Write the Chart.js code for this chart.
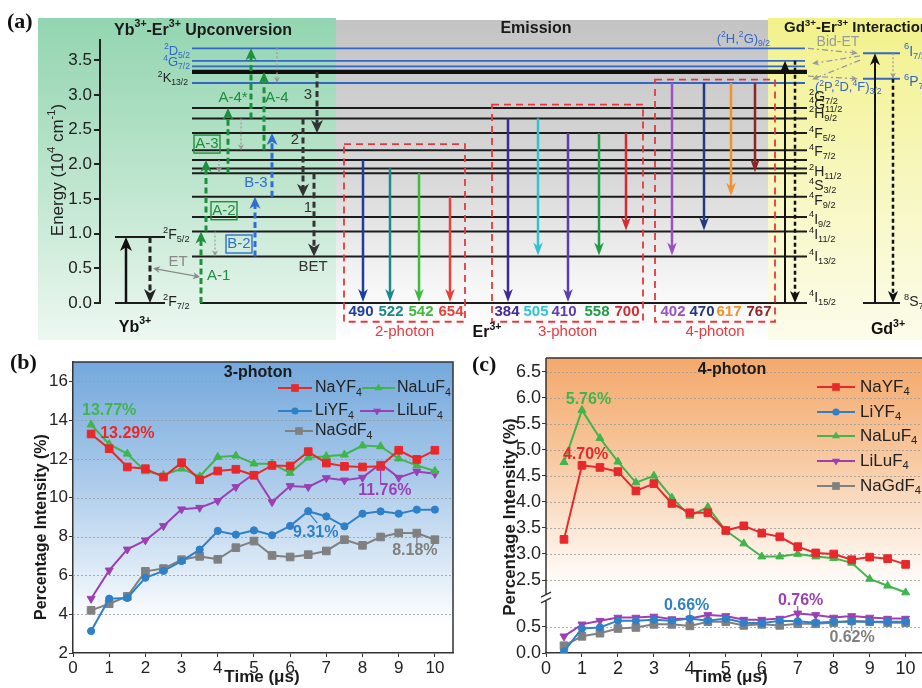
<!DOCTYPE html>
<html lang="en">
<head>
<meta charset="UTF-8" />
<title>Er3+ upconversion, 3-photon and 4-photon emission</title>
<script src="https://cdn.jsdelivr.net/npm/chart.js"></script>
<style>
  html, body { margin: 0; padding: 0; background: #fff; width: 922px; height: 688px; overflow: hidden; }
  .panel { position: absolute; }
  .panel canvas { display: block; }
  #wrapA { left: 0; top: 0; }
  #wrapB { left: 0; top: 340px; }
  #wrapC { left: 460px; top: 340px; }
</style>
</head>
<body>
<div class="panel" id="wrapA"><canvas id="chartA" width="922" height="340"></canvas></div>
<div class="panel" id="wrapB"><canvas id="chartB" width="460" height="348"></canvas></div>
<div class="panel" id="wrapC"><canvas id="chartC" width="470" height="348"></canvas></div>

<script>
// ---------- panel (a): energy levels (10^4 cm^-1) ----------
const erLevels = [0, 0.67, 1.03, 1.24, 1.53, 1.87, 1.94, 2.06, 2.20, 2.45, 2.66, 2.81];
const erLevelNames = ['^{4}I_{15/2}', '^{4}I_{13/2}', '^{4}I_{11/2}', '^{4}I_{9/2}', '^{4}F_{9/2}', '^{4}S_{3/2}',
                      '^{2}H_{11/2}', '^{4}F_{7/2}', '^{4}F_{5/2}', '^{2}H_{9/2}', '^{4}G_{11/2}', '^{2}G_{7/2}'];
const erHighLevels = [3.17, 3.41, 3.49, 3.67];
const er2K13 = 3.33;
const ybLevels = [0, 0.95];
const gdLevels = [0, 3.23, 3.60];

// emission transitions (nm, from, to)
const emissionNm   = [490, 522, 542, 654, 384, 505, 410, 558, 700, 402, 470, 617, 767];
const emissionFrom = [2.06, 1.94, 1.87, 1.53, 2.66, 2.66, 2.45, 2.45, 2.45, 3.17, 3.17, 3.17, 3.17];
const emissionTo   = [0, 0, 0, 0, 0, 0.67, 0, 0.67, 1.03, 0.67, 1.03, 1.53, 1.87];
const photonGroups = ['2-photon', '3-photon', '4-photon'];
const photonGroupTop = [2.29, 2.86, 3.22];

// upconversion steps A-1 ... B-3
const upFrom = [0, 1.03, 1.87, 2.66, 2.20, 0.67, 1.53];
const upTo   = [1.03, 2.06, 2.81, 3.67, 3.33, 1.53, 2.45];
// non-radiative relaxation
const relaxFrom = [1.03, 2.06, 2.66, 3.67];
const relaxTo   = [0.67, 1.87, 2.20, 3.17];
// back energy transfer 1, 2, 3
const betFrom = [1.87, 2.66, 3.33];
const betTo   = [0.67, 1.53, 2.45];

// ---------- panels (b), (c): percentage intensity vs time ----------
const timeUs = [0.5, 1, 1.5, 2, 2.5, 3, 3.5, 4, 4.5, 5, 5.5, 6, 6.5, 7, 7.5, 8, 8.5, 9, 9.5, 10];
const hostNames = ['NaYF_{4}', 'LiYF_{4}', 'NaLuF_{4}', 'LiLuF_{4}', 'NaGdF_{4}'];

const p3NaYF4  = [13.29, 12.53, 11.59, 11.50, 11.07, 11.81, 10.93, 11.38, 11.47, 11.16, 11.67, 11.64, 12.38, 11.79, 11.62, 11.59, 11.62, 12.45, 11.98, 12.45];
const p3LiYF4  = [3.13, 4.80, 4.84, 5.88, 6.23, 6.74, 7.33, 8.29, 8.10, 8.32, 8.07, 8.55, 9.31, 9.04, 8.53, 9.18, 9.30, 9.18, 9.39, 9.39];
const p3NaLuF4 = [13.77, 12.76, 12.27, 11.36, 11.18, 11.50, 11.10, 12.10, 12.17, 11.76, 11.76, 11.28, 12.07, 12.14, 12.22, 12.69, 12.65, 12.02, 11.67, 11.38];
const p3LiLuF4 = [4.80, 6.26, 7.34, 7.81, 8.55, 9.41, 9.49, 9.84, 10.56, 11.24, 9.78, 10.61, 10.56, 11.02, 10.90, 11.04, 11.76, 11.04, 11.36, 11.24];
const p3NaGdF4 = [4.20, 4.54, 4.92, 6.21, 6.35, 6.81, 6.98, 6.83, 7.43, 7.77, 7.03, 6.95, 7.07, 7.26, 7.84, 7.55, 7.98, 8.19, 8.18, 7.84];

const p4NaYF4  = [3.28, 4.70, 4.66, 4.58, 4.21, 4.35, 3.97, 3.79, 3.79, 3.45, 3.54, 3.40, 3.33, 3.14, 3.02, 3.00, 2.89, 2.94, 2.91, 2.80];
const p4LiYF4  = [0.03, 0.47, 0.49, 0.62, 0.62, 0.64, 0.62, 0.66, 0.62, 0.66, 0.58, 0.57, 0.62, 0.61, 0.58, 0.60, 0.60, 0.60, 0.60, 0.60];
const p4NaLuF4 = [4.76, 5.76, 5.22, 4.77, 4.37, 4.50, 4.08, 3.73, 3.90, 3.45, 3.20, 2.95, 2.95, 3.00, 2.95, 2.92, 2.83, 2.52, 2.39, 2.26];
const p4LiLuF4 = [0.32, 0.55, 0.62, 0.68, 0.68, 0.70, 0.65, 0.66, 0.73, 0.71, 0.64, 0.64, 0.66, 0.76, 0.73, 0.68, 0.71, 0.68, 0.66, 0.66];
const p4NaGdF4 = [0.14, 0.32, 0.38, 0.47, 0.49, 0.55, 0.55, 0.52, 0.60, 0.60, 0.53, 0.55, 0.53, 0.56, 0.56, 0.58, 0.62, 0.60, 0.58, 0.58];

const p3Ticks = [2, 4, 6, 8, 10, 12, 14, 16];
const p4Ticks = [0, 0.5, 2.5, 3.0, 3.5, 4.0, 4.5, 5.0, 5.5, 6.0, 6.5];
const p4Gap = 1.1;   // part of the 4-photon y axis that is cut out

// ---------- styles ----------
const SANS = '"Liberation Sans", Arial, Helvetica, sans-serif';
const SERIF = '"Liberation Serif", "Times New Roman", serif';
Chart.defaults.font.family = SANS;
Chart.defaults.color = '#222';

const hostColors = ['#e8282b', '#2f80c8', '#3fb54c', '#9b3fb5', '#808080'];
const hostMarkers = ['rect', 'circle', 'triangle', 'triangleDown', 'rect'];
const hostRadius = [5.4, 3.6, 4.6, 4.6, 5.4];
const GREEN = '#1e8f3c', BLUE = '#2f6fd0', LBLUE = '#3466c6', RED = '#e8383d';

// diagram layout, x in page pixels
const LAY = {
  erX0: 192, erX1: 807, ybX: [115, 165], gdX: [863, 900],
  emissionX: [363, 390, 419, 450, 508, 538, 568, 599, 626, 672, 704, 731, 755],
  emissionLabelX: [361, 391, 421, 451, 507, 536, 564, 597, 627, 673, 702, 729, 759],
  emissionColor: ['#1f3d9e', '#1a8b8b', '#3dbb3d', '#e8403a', '#3f2a92', '#2fc4d0', '#5a3eb0',
                  '#1f9c48', '#d42a30', '#9a52c2', '#253a7e', '#f0922e', '#8e2424'],
  groupBox: [[344, 465], [492, 643], [655, 775]],
  upX: [201, 206, 228, 251, 264, 255, 272],
  upColor: [GREEN, GREEN, GREEN, GREEN, GREEN, BLUE, BLUE],
  relaxX: [215, 219, 241, 277],
  betX: [314, 303, 317],
  erLabelDy: [-5, 1, 4, 3, 4, 13, 4, -8, -16, -19, -13, -11]
};

// ---------- helpers ----------
function rich(ctx, str, x, y, o) {
  const parts = [];
  const re = /([_^])\{([^}]*)\}|([^_^]+)/g;
  let m;
  while ((m = re.exec(str))) {
    if (m[3]) parts.push({ t: m[3], k: 0 });
    else parts.push({ t: m[2], k: m[1] === '_' ? 1 : 2 });
  }
  const size = o.size || 14, w = o.weight || 'normal', fam = o.family || SANS;
  const fontFor = k => `${w} ${k ? size * 0.66 : size}px ${fam}`;
  let total = 0;
  parts.forEach(p => { ctx.font = fontFor(p.k); p.w = ctx.measureText(p.t).width; total += p.w; });
  let cx = o.align === 'center' ? x - total / 2 : o.align === 'right' ? x - total : x;
  ctx.save();
  ctx.fillStyle = o.color || '#222';
  ctx.textBaseline = 'middle';
  ctx.textAlign = 'left';
  parts.forEach(p => {
    ctx.font = fontFor(p.k);
    const dy = p.k === 1 ? size * 0.3 : p.k === 2 ? -size * 0.36 : 0;
    ctx.fillText(p.t, cx, y + dy);
    cx += p.w;
  });
  ctx.restore();
}

function head(ctx, x2, y2, ang, hl, hw) {
  const bx = x2 - hl * Math.cos(ang), by = y2 - hl * Math.sin(ang);
  ctx.beginPath();
  ctx.moveTo(x2, y2);
  ctx.lineTo(bx + hw * Math.sin(ang), by - hw * Math.cos(ang));
  ctx.lineTo(x2 - hl * 0.72 * Math.cos(ang), y2 - hl * 0.72 * Math.sin(ang));
  ctx.lineTo(bx - hw * Math.sin(ang), by + hw * Math.cos(ang));
  ctx.closePath();
  ctx.fill();
}

function arrow(ctx, x1, y1, x2, y2, o) {
  const ang = Math.atan2(y2 - y1, x2 - x1);
  const hl = o.head || 12, hw = o.headW || 5;
  ctx.save();
  ctx.strokeStyle = ctx.fillStyle = o.color;
  ctx.lineWidth = o.width || 2;
  ctx.setLineDash(o.dash || []);
  ctx.beginPath();
  const sx = o.both ? x1 + hl * 0.6 * Math.cos(ang) : x1, sy = o.both ? y1 + hl * 0.6 * Math.sin(ang) : y1;
  ctx.moveTo(sx, sy);
  ctx.lineTo(x2 - hl * 0.6 * Math.cos(ang), y2 - hl * 0.6 * Math.sin(ang));
  ctx.stroke();
  ctx.setLineDash([]);
  head(ctx, x2, y2, ang, hl, hw);
  if (o.both) head(ctx, x1, y1, ang + Math.PI, hl, hw);
  ctx.restore();
}

function marker(ctx, style, x, y, r, color) {
  ctx.save();
  ctx.fillStyle = color;
  ctx.beginPath();
  if (style === 'rect') ctx.rect(x - r * 0.71, y - r * 0.71, r * 1.42, r * 1.42);
  else if (style === 'circle') ctx.arc(x, y, r, 0, Math.PI * 2);
  else {
    const s = style === 'triangle' ? 1 : -1;
    ctx.moveTo(x, y - s * r);
    ctx.lineTo(x + r * 0.87, y + s * r * 0.5);
    ctx.lineTo(x - r * 0.87, y + s * r * 0.5);
    ctx.closePath();
  }
  ctx.fill();
  ctx.restore();
}

function boxedLabel(ctx, text, x, y, color) {
  ctx.save();
  ctx.strokeStyle = color;
  ctx.lineWidth = 1.4;
  ctx.strokeRect(x - 13, y - 9, 26, 18);
  ctx.restore();
  rich(ctx, text, x, y, { size: 15, color, align: 'center' });
}

function zone(ctx, x0, y0, x1, y1, stops) {
  const g = ctx.createLinearGradient(0, y0, 0, y1);
  stops.forEach(([p, c]) => g.addColorStop(p, c));
  ctx.fillStyle = g;
  ctx.fillRect(x0, y0, x1 - x0, y1 - y0);
}

// ---------- panel (a) ----------
function levelSet(E, x0, x1, color, width) {
  return { data: [{ x: x0, y: E }, { x: x1, y: E }], showLine: true, borderColor: color,
           borderWidth: width, pointRadius: 0, clip: false };
}
const datasetsA = [];
erLevels.forEach((E, i) => datasetsA.push(levelSet(E, i === 0 ? 200 : LAY.erX0, LAY.erX1, '#1c1c1c', 2)));
erHighLevels.forEach(E => datasetsA.push(levelSet(E, LAY.erX0, LAY.erX1 - 2, LBLUE, 1.8)));
datasetsA.push(levelSet(er2K13, LAY.erX0, LAY.erX1, '#111', 4.2));
ybLevels.forEach(E => datasetsA.push(levelSet(E, LAY.ybX[0], LAY.ybX[1], '#1c1c1c', 2)));
gdLevels.forEach((E, i) => datasetsA.push(levelSet(E, LAY.gdX[0], LAY.gdX[1], i === 0 ? '#1c1c1c' : LBLUE, 2)));

const diagramPlugin = {
  id: 'diagram',
  beforeDraw(chart) {
    const ctx = chart.ctx;
    zone(ctx, 38, 18, 336, 343, [[0, '#93d5b1'], [0.5, '#bde5cd'], [1, '#eef8f2']]);
    zone(ctx, 336, 20, 768, 343, [[0, '#c4c4c4'], [0.5, '#d9d9d9'], [0.82, '#f6f6f6'], [1, '#ffffff']]);
    zone(ctx, 768, 18, 922, 343, [[0, '#f2f18a'], [0.5, '#f7f7bf'], [1, '#fcfcec']]);
  },
  afterDatasetsDraw(chart) {
    const ctx = chart.ctx;
    const X = v => chart.scales.x.getPixelForValue(v);
    const Y = v => chart.scales.y.getPixelForValue(v);

    // photon-order boxes and emission arrows
    photonGroups.forEach((g, i) => {
      const [x0, x1] = LAY.groupBox[i];
      ctx.save();
      ctx.strokeStyle = RED; ctx.lineWidth = 1.8; ctx.setLineDash([7, 5]);
      ctx.strokeRect(X(x0), Y(photonGroupTop[i]), X(x1) - X(x0), Y(-0.27) - Y(photonGroupTop[i]));
      ctx.restore();
      rich(ctx, g, X((x0 + x1) / 2), Y(-0.41), { size: 15, color: RED, align: 'center' });
    });
    emissionNm.forEach((nm, i) => {
      const x = X(LAY.emissionX[i]);
      arrow(ctx, x, Y(emissionFrom[i]), x, Y(emissionTo[i]) - 1, { color: LAY.emissionColor[i], width: 2.5, head: 13, headW: 4.8 });
      rich(ctx, String(nm), X(LAY.emissionLabelX[i]), Y(-0.13), { size: 15, weight: 'bold', color: LAY.emissionColor[i], align: 'center' });
    });

    // Yb3+ absorption / ET
    arrow(ctx, X(126), Y(0), X(126), Y(ybLevels[1]), { color: '#111', width: 2.5, head: 14, headW: 6 });
    arrow(ctx, X(150), Y(ybLevels[1]), X(150), Y(0), { color: '#222', width: 3, dash: [6, 3.5], head: 14, headW: 6 });
    arrow(ctx, X(153), Y(0.5), X(200), Y(0.375), { color: '#8a8a8a', width: 1.3, head: 7, headW: 3.5, both: true });

    // upconversion, relaxation, back energy transfer
    upFrom.forEach((f, i) => arrow(ctx, X(LAY.upX[i]), Y(f), X(LAY.upX[i]), Y(upTo[i]),
      { color: LAY.upColor[i], width: 3, dash: [6, 3.5], head: 12, headW: 5.5 }));
    relaxFrom.forEach((f, i) => arrow(ctx, X(LAY.relaxX[i]), Y(f), X(LAY.relaxX[i]), Y(relaxTo[i]),
      { color: '#9a9a9a', width: 1.2, dash: [2, 2], head: 6, headW: 3 }));
    betFrom.forEach((f, i) => arrow(ctx, X(LAY.betX[i]), Y(f), X(LAY.betX[i]), Y(betTo[i]),
      { color: '#333', width: 3, dash: [6, 3.5], head: 13, headW: 6 }));

    // Er3+ <-> Gd3+
    arrow(ctx, X(785), Y(0), X(785), Y(erHighLevels[2]), { color: '#111', width: 2, head: 12, headW: 5 });
    arrow(ctx, X(795), Y(erHighLevels[2]), X(795), Y(0), { color: '#111', width: 2.5, dash: [4, 3], head: 12, headW: 5 });
    arrow(ctx, X(875), Y(0), X(875), Y(gdLevels[2]), { color: '#111', width: 2, head: 12, headW: 5 });
    arrow(ctx, X(893), Y(gdLevels[1]), X(893), Y(0), { color: '#111', width: 2.5, dash: [4, 3], head: 12, headW: 5 });
    arrow(ctx, X(893), Y(gdLevels[2]), X(893), Y(gdLevels[1]), { color: '#9a9a9a', width: 1.2, dash: [2, 2], head: 6, headW: 3 });
    const bid = { color: '#9a9a9a', width: 1.3, dash: [6, 3, 2, 3], head: 7, headW: 3 };
    arrow(ctx, X(808), Y(erHighLevels[3]), X(858), Y(gdLevels[2]), bid);
    arrow(ctx, X(860), Y(gdLevels[2] - 0.04), X(812), Y(erHighLevels[2] - 0.04), bid);
    arrow(ctx, X(860), Y(gdLevels[2] - 0.1), X(812), Y(erHighLevels[0] + 0.05), bid);
    arrow(ctx, X(808), Y(erHighLevels[0] + 0.1), X(858), Y(gdLevels[1]), bid);

    // labels
    const T = (txt, x, E, o) => rich(ctx, txt, X(x), Y(E), o);
    T('Yb^{3+}-Er^{3+} Upconversion', 203, 3.93, { size: 16, weight: 'bold', color: '#1a1a1a', align: 'center' });
    T('Emission', 536, 3.96, { size: 16, weight: 'bold', color: '#1a1a1a', align: 'center' });
    T('Gd^{3+}-Er^{3+} Interaction', 784, 3.96, { size: 15, weight: 'bold', color: '#1a1a1a' });
    T('^{2}F_{5/2}', 163, 0.98, { size: 14 });
    T('^{2}F_{7/2}', 163, 0.01, { size: 14 });
    T('Yb^{3+}', 135, -0.35, { size: 16, weight: 'bold', color: '#111', align: 'center' });
    T('Er^{3+}', 487, -0.43, { size: 16, weight: 'bold', color: '#111', align: 'center' });
    T('Gd^{3+}', 888, -0.39, { size: 16, weight: 'bold', color: '#111', align: 'center' });
    T('ET', 178, 0.60, { size: 15, color: '#8a8a8a', align: 'center' });
    T('A-1', 207, 0.39, { size: 15, color: GREEN });
    T('A-4*', 233, 2.95, { size: 15, color: GREEN, align: 'center' });
    T('A-4', 277, 2.95, { size: 15, color: GREEN, align: 'center' });
    T('B-3', 256, 1.73, { size: 15, color: BLUE, align: 'center' });
    boxedLabel(ctx, 'A-2', X(224), Y(1.33), GREEN);
    boxedLabel(ctx, 'A-3', X(207), Y(2.29), GREEN);
    boxedLabel(ctx, 'B-2', X(239), Y(0.85), BLUE);
    T('1', 308, 1.37, { size: 15, color: '#333', align: 'center' });
    T('2', 295, 2.35, { size: 15, color: '#333', align: 'center' });
    T('3', 308, 3.00, { size: 15, color: '#333', align: 'center' });
    T('BET', 313, 0.52, { size: 15, color: '#333', align: 'center' });
    T('^{2}D_{5/2}', 190, 3.62, { size: 13, color: LBLUE, align: 'right' });
    T('^{4}G_{7/2}', 190, 3.46, { size: 13, color: LBLUE, align: 'right' });
    T('^{2}K_{13/2}', 188, 3.23, { size: 13, color: '#222', align: 'right' });
    T('(^{2}H,^{2}G)_{9/2}', 770, 3.80, { size: 13, color: LBLUE, align: 'right' });
    T('(^{2}P,^{2}D,^{4}F)_{3/2}', 815, 3.10, { size: 13, color: LBLUE });
    T('Bid-ET', 838, 3.76, { size: 14, color: '#9a9a9a', align: 'center' });
    T('^{6}I_{7/2}', 904, 3.62, { size: 14, color: LBLUE });
    T('^{6}P_{7/2}', 904, 3.18, { size: 14, color: LBLUE });
    T('^{8}S_{7/2}', 904, 0.01, { size: 14, color: '#222' });
    erLevels.forEach((E, i) => rich(ctx, erLevelNames[i], X(809), Y(E) + LAY.erLabelDy[i], { size: 14, color: '#222' }));

    // axis title and panel letter
    ctx.save();
    ctx.translate(58, 170);
    ctx.rotate(-Math.PI / 2);
    rich(ctx, 'Energy (10^{4} cm^{-1})', 0, 0, { size: 17, color: '#222', align: 'center' });
    ctx.restore();
    rich(ctx, '(a)', 7, 22, { size: 22, weight: 'bold', family: SERIF, color: '#111' });
  }
};

new Chart(document.getElementById('chartA'), {
  type: 'scatter',
  data: { datasets: datasetsA },
  options: {
    responsive: false,
    animation: false,
    layout: { padding: { left: 0, right: 0, top: 40, bottom: 37 } },
    plugins: { legend: { display: false }, tooltip: { enabled: false } },
    scales: {
      x: { type: 'linear', min: 100, max: 922, display: false },
      y: {
        min: 0, max: 3.79,
        afterFit: s => { s.width = 100; },
        ticks: { stepSize: 0.5, includeBounds: false, padding: 2, font: { size: 17 }, color: '#222', callback: v => v.toFixed(1) },
        grid: { drawOnChartArea: false, tickLength: 6, color: '#222', lineWidth: 2 },
        border: { color: '#222', width: 2 }
      }
    }
  },
  plugins: [diagramPlugin]
});

// ---------- panels (b) and (c) ----------
function hostSets(series, map) {
  return hostNames.map((name, i) => ({
    label: name,
    data: timeUs.map((t, j) => ({ x: t, y: map(series[i][j]) })),
    borderColor: hostColors[i],
    backgroundColor: hostColors[i],
    borderWidth: 2,
    pointRadius: hostRadius[i],
    pointStyle: hostMarkers[i] === 'triangleDown' ? 'triangle' : hostMarkers[i],
    pointRotation: hostMarkers[i] === 'triangleDown' ? 180 : 0,
    pointBorderWidth: 1,
    tension: 0
  }));
}

function plotDecor(cfg) {
  return {
    id: 'decor',
    beforeDraw(chart) {
      const { ctx, chartArea: a } = chart;
      const g = ctx.createLinearGradient(0, a.top, 0, a.bottom);
      cfg.bg.forEach(([p, c]) => g.addColorStop(p, c));
      ctx.fillStyle = g;
      ctx.fillRect(a.left, a.top, a.right - a.left, a.bottom - a.top);
    },
    beforeDatasetsDraw(chart) {
      const { ctx, chartArea: a, scales } = chart;
      ctx.save();
      ctx.strokeStyle = '#9a9a9a'; ctx.lineWidth = 0.8; ctx.setLineDash([2, 2]);
      cfg.grid.forEach(v => {
        const y = Math.round(scales.y.getPixelForValue(v)) + 0.5;
        ctx.beginPath(); ctx.moveTo(a.left, y); ctx.lineTo(a.right, y); ctx.stroke();
      });
      ctx.restore();
    },
    afterDatasetsDraw(chart) {
      const { ctx, chartArea: a, scales } = chart;
      ctx.save();
      ctx.strokeStyle = '#333'; ctx.lineWidth = 1.5;
      ctx.beginPath();
      ctx.moveTo(a.left, a.top); ctx.lineTo(a.right, a.top); ctx.lineTo(a.right, a.bottom);
      if (cfg.breakAt) {
        const yb0 = scales.y.getPixelForValue(cfg.breakAt[0]), yb1 = scales.y.getPixelForValue(cfg.breakAt[1]);
        ctx.moveTo(a.left, a.bottom); ctx.lineTo(a.left, yb0);
        ctx.moveTo(a.left, yb1); ctx.lineTo(a.left, a.top);
        ctx.moveTo(a.left - 5, yb0 + 2); ctx.lineTo(a.left + 5, yb0 - 3);
        ctx.moveTo(a.left - 5, yb1 + 3); ctx.lineTo(a.left + 5, yb1 - 2);
      }
      ctx.stroke();
      ctx.restore();
      // leader lines for the annotations
      cfg.leaders.forEach(([x0, y0, x1, y1, c]) => {
        ctx.save(); ctx.strokeStyle = c; ctx.lineWidth = 1.2; ctx.beginPath();
        ctx.moveTo(scales.x.getPixelForValue(x0), scales.y.getPixelForValue(y0));
        ctx.lineTo(scales.x.getPixelForValue(x1), scales.y.getPixelForValue(y1));
        ctx.stroke(); ctx.restore();
      });
    },
    afterDraw(chart) {
      const { ctx, scales } = chart;
      const ds = chart.data.datasets;
      rich(ctx, cfg.letter, cfg.letterPos[0], cfg.letterPos[1], { size: 22, weight: 'bold', family: SERIF, color: '#111' });
      rich(ctx, cfg.title, cfg.titlePos[0], cfg.titlePos[1], { size: 16, weight: 'bold', color: '#1a1a1a', align: 'center' });
      rich(ctx, 'Time (\u03bcs)', cfg.xTitlePos[0], cfg.xTitlePos[1], { size: 17, weight: 'bold', color: '#1a1a1a', align: 'center' });
      ctx.save();
      ctx.translate(cfg.yTitlePos[0], cfg.yTitlePos[1]);
      ctx.rotate(-Math.PI / 2);
      rich(ctx, 'Percentage Intensity (%)', 0, 0, { size: cfg.yTitleSize, weight: 'bold', color: '#1a1a1a', align: 'center' });
      ctx.restore();
      cfg.legend.forEach(([i, x0, x1, tx, y]) => {
        ctx.save(); ctx.strokeStyle = hostColors[i]; ctx.lineWidth = 2;
        ctx.beginPath(); ctx.moveTo(x0, y); ctx.lineTo(x1, y); ctx.stroke(); ctx.restore();
        marker(ctx, hostMarkers[i], (x0 + x1) / 2, y, hostRadius[i], hostColors[i]);
        rich(ctx, ds[i].label, tx, y, { size: cfg.legendSize, color: '#222' });
      });
      cfg.notes.forEach(([txt, x, y, c]) => rich(ctx, txt, scales.x.getPixelForValue(x), scales.y.getPixelForValue(y),
        { size: 16, weight: 'bold', color: c }));
    }
  };
}

function axisX() {
  return {
    type: 'linear', min: 0, max: 10.5,
    afterFit: s => { s.height = 35; },
    ticks: { stepSize: 1, includeBounds: false, padding: 1, font: { size: 17 }, color: '#222' },
    grid: { drawOnChartArea: false, tickLength: 4, color: '#333' },
    border: { color: '#333', width: 1.5 }
  };
}

// (b) 3-photon
const p3 = [p3NaYF4, p3LiYF4, p3NaLuF4, p3LiLuF4, p3NaGdF4];
new Chart(document.getElementById('chartB'), {
  type: 'line',
  data: { datasets: hostSets(p3, v => v) },
  options: {
    responsive: false,
    animation: false,
    layout: { padding: { left: 0, right: 7, top: 22, bottom: 0 } },
    plugins: { legend: { display: false }, tooltip: { enabled: false } },
    scales: {
      x: axisX(),
      y: {
        min: 2, max: 17,
        afterFit: s => { s.width = 73; },
        afterBuildTicks: s => { s.ticks = p3Ticks.map(v => ({ value: v })); },
        ticks: { padding: 1, font: { size: 17 }, color: '#222' },
        grid: { drawOnChartArea: false, tickLength: 4, color: '#333' },
        border: { color: '#333', width: 1.5 }
      }
    }
  },
  plugins: [plotDecor({
    bg: [[0, '#74a8dc'], [0.4, '#aacaea'], [0.7, '#dbe9f6'], [0.9, '#ffffff'], [1, '#ffffff']],
    grid: p3Ticks.slice(1),
    letter: '(b)', letterPos: [10, 23],
    title: '3-photon', titlePos: [258, 33],
    xTitlePos: [262, 337], yTitlePos: [42, 187], yTitleSize: 16,
    legendSize: 16,
    legend: [[0, 278, 312, 315, 48], [2, 362, 395, 397, 48], [1, 278, 312, 315, 71], [3, 360, 394, 397, 71], [4, 285, 313, 315, 91]],
    notes: [['13.77%', 0.25, 14.47, '#3fb54c'], ['13.29%', 0.75, 13.29, '#e8282b'], ['11.76%', 7.88, 10.35, '#9b3fb5'],
            ['9.31%', 6.08, 8.19, '#2f80c8'], ['8.18%', 8.82, 7.26, '#808080']],
    leaders: [[8.5, 11.6, 8.5, 10.75, '#9b3fb5'], [6.55, 9.15, 6.75, 8.7, '#2f80c8'], [9.5, 8.05, 9.5, 7.6, '#808080']]
  })]
});

// (c) 4-photon, broken y axis
const cut = v => (v > 1.5 ? v - p4Gap : v);
const p4 = [p4NaYF4, p4LiYF4, p4NaLuF4, p4LiLuF4, p4NaGdF4];
new Chart(document.getElementById('chartC'), {
  type: 'line',
  data: { datasets: hostSets(p4, cut) },
  options: {
    responsive: false,
    animation: false,
    layout: { padding: { left: 0, right: 3, top: 18, bottom: 0 } },
    plugins: { legend: { display: false }, tooltip: { enabled: false } },
    scales: {
      x: Object.assign(axisX(), { ticks: { stepSize: 1, includeBounds: false, padding: 1, font: { size: 18 }, color: '#222' } }),
      y: {
        min: 0, max: 5.66,
        afterFit: s => { s.width = 86; },
        afterBuildTicks: s => { s.ticks = p4Ticks.map(v => ({ value: cut(v) })); },
        ticks: { padding: 1, font: { size: 18 }, color: '#222', callback: v => (v > 1.05 ? v + p4Gap : v).toFixed(1) },
        grid: { drawOnChartArea: false, tickLength: 4, color: '#333' },
        border: { display: false }
      }
    }
  },
  plugins: [plotDecor({
    bg: [[0, '#f4a96c'], [0.3, '#f7c498'], [0.55, '#fbe3cf'], [0.72, '#fff8f2'], [0.78, '#ffffff'], [1, '#ffffff']],
    grid: p4Ticks.slice(1).map(cut),
    breakAt: [1.0, 1.13],
    letter: '(c)', letterPos: [12, 25],
    title: '4-photon', titlePos: [272, 30],
    xTitlePos: [270, 337], yTitlePos: [50, 177], yTitleSize: 17,
    legendSize: 17,
    legend: [[0, 357, 395, 400, 47], [1, 357, 395, 400, 72], [2, 357, 395, 400, 96], [3, 357, 395, 400, 121], [4, 357, 395, 400, 146]],
    notes: [['5.76%', 0.55, cut(5.96), '#3fb54c'], ['4.70%', 0.47, cut(4.90), '#e8282b'], ['0.66%', 3.28, 0.91, '#2f80c8'],
            ['0.76%', 6.45, 1.01, '#9b3fb5'], ['0.62%', 7.88, 0.29, '#808080']],
    leaders: [[4, 0.83, 4, 0.68, '#2f80c8'], [7, 0.9, 7, 0.78, '#9b3fb5'], [8.5, 0.58, 8.5, 0.42, '#808080']]
  })]
});
</script>
</body>
</html>
